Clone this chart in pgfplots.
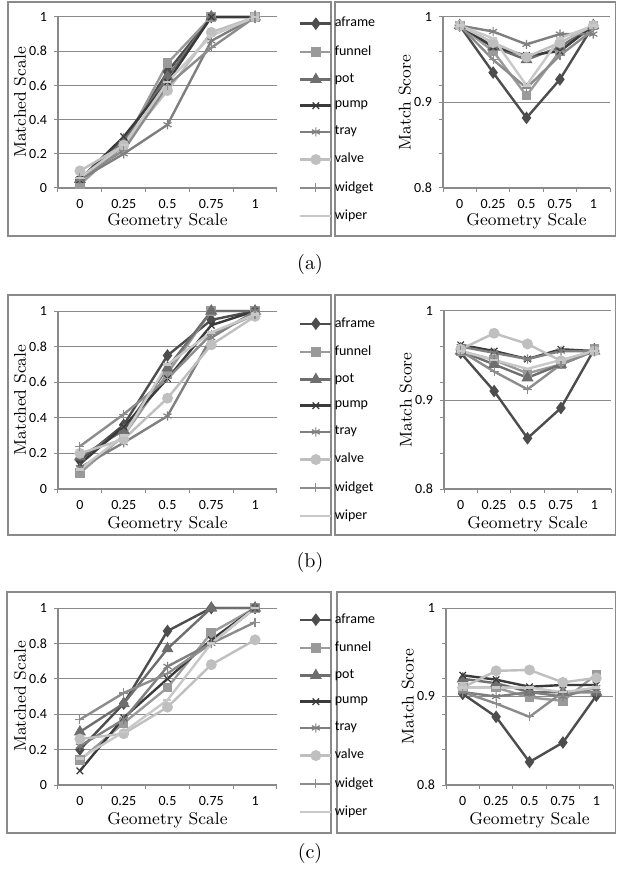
\documentclass[border=0pt]{standalone}
\usepackage{fontspec}
\usepackage{pgfplots}
\pgfplotsset{compat=1.18}
\usepackage{pgfplotstable}
\newfontfamily\carlito{Carlito}
\newcommand{\tickfont}{\carlito\fontsize{7}{8}\selectfont}
\newcommand{\labfont}{\fontsize{8.5}{10}\selectfont}

\definecolor{cAframe}{HTML}{4D4D4D}
\definecolor{cFunnel}{HTML}{9A9A9A}
\definecolor{cPot}{HTML}{6E6E6E}
\definecolor{cPump}{HTML}{3A3A3A}
\definecolor{cTray}{HTML}{7F7F7F}
\definecolor{cValve}{HTML}{BFBFBF}
\definecolor{cWidget}{HTML}{8C8C8C}
\definecolor{cWiper}{HTML}{C8C8C8}
\definecolor{gridgray}{HTML}{8A8A8A}

% x = category index (0 -> 0, 1 -> 0.25, ..., 4 -> 1)
\pgfplotstableread{
x aframe funnel pot pump tray valve widget wiper
0 0.05 0.02 0.05 0.05 0.05 0.10 0.06 0.06
1 0.27 0.25 0.28 0.30 0.20 0.25 0.22 0.25
2 0.68 0.73 0.65 0.62 0.37 0.57 0.60 0.62
3 1.00 1.00 1.00 1.00 0.86 0.91 0.82 0.89
4 1.00 1.00 1.00 1.00 1.00 1.00 1.00 1.00
}\tLA
\pgfplotstableread{
x aframe funnel pot pump tray valve widget wiper
0 0.990 0.990 0.990 0.990 0.990 0.990 0.990 0.990
1 0.935 0.960 0.965 0.965 0.983 0.970 0.950 0.975
2 0.882 0.908 0.950 0.955 0.968 0.953 0.917 0.920
3 0.927 0.960 0.965 0.960 0.980 0.970 0.955 0.975
4 0.990 0.990 0.990 0.990 0.980 0.990 0.985 0.990
}\tRA
\pgfplotstableread{
x aframe funnel pot pump tray valve widget wiper
0 0.16 0.09 0.18 0.14 0.12 0.20 0.24 0.11
1 0.36 0.30 0.33 0.35 0.26 0.28 0.42 0.30
2 0.75 0.65 0.68 0.62 0.41 0.51 0.62 0.70
3 0.95 1.00 1.00 0.92 0.85 0.81 0.87 0.88
4 1.00 1.00 1.00 1.00 1.00 0.97 0.98 0.98
}\tLB
\pgfplotstableread{
x aframe funnel pot pump tray valve widget wiper
0 0.953 0.955 0.955 0.962 0.960 0.957 0.955 0.955
1 0.910 0.945 0.940 0.955 0.953 0.975 0.932 0.945
2 0.857 0.930 0.925 0.946 0.946 0.963 0.912 0.935
3 0.891 0.940 0.940 0.957 0.955 0.944 0.940 0.945
4 0.957 0.958 0.955 0.955 0.955 0.955 0.955 0.955
}\tRB
\pgfplotstableread{
x aframe funnel pot pump tray valve widget wiper
0 0.20 0.14 0.30 0.08 0.22 0.26 0.37 0.15
1 0.46 0.35 0.46 0.38 0.37 0.29 0.52 0.30
2 0.87 0.55 0.77 0.60 0.67 0.44 0.63 0.48
3 1.00 0.86 1.00 0.82 0.80 0.68 0.80 0.80
4 1.00 1.00 1.00 1.00 1.00 0.82 0.92 1.00
}\tLC
\pgfplotstableread{
x aframe funnel pot pump tray valve widget wiper
0 0.903 0.910 0.920 0.924 0.905 0.910 0.905 0.910
1 0.877 0.910 0.915 0.919 0.900 0.929 0.892 0.910
2 0.826 0.899 0.905 0.911 0.905 0.930 0.877 0.910
3 0.848 0.895 0.905 0.913 0.900 0.916 0.905 0.905
4 0.901 0.925 0.905 0.913 0.910 0.921 0.905 0.910
}\tRC

\pgfplotsset{
  excel/.style={
    anchor=south west, scale only axis, clip=false,
    xmin=-0.5, xmax=4.5,
    xtick={0,...,4}, xticklabels={0,0.25,0.5,0.75,1},
    minor xtick={-0.5,0.5,1.5,2.5,3.5,4.5},
    major x tick style={draw=none},
    tick align=outside, major tick length=2pt, minor tick length=2pt,
    tick style={draw=gridgray, line width=0.5pt},
    axis x line*=bottom, axis y line*=left,
    axis line style={draw=gridgray, line width=0.6pt, -},
    ymajorgrids, major grid style={draw=gridgray, line width=0.5pt},
    ticklabel style={font=\tickfont},
    /pgf/number format/assume math mode=true,
    xlabel={Geometry Scale},
    xlabel style={font=\labfont, at={(axis description cs:0.5,-0.197)}, anchor=center},
    ylabel style={font=\labfont, anchor=center},
    every axis plot/.append style={line width=1.2pt, mark options={solid}},
    legend image code/.code={\draw[mark repeat=2,mark phase=2,##1]
      plot coordinates {(0cm,0cm) (0.27cm,0cm) (0.54cm,0cm)};},
  },
  leftax/.style={excel, width=109.5pt,
    ymin=0, ymax=1, ytick={0,0.2,...,1},
    ylabel={Matched Scale},
    ylabel style={at={(axis description cs:-0.173,0.5)}},
    legend cell align=left,
    legend style={at={(axis description cs:1.1,1)}, anchor=north west,
      draw=none, fill=none, font=\tickfont, inner sep=0pt, row sep=3.7pt,
      nodes={inner xsep=1.2pt}},
  },
  rightax/.style={excel, width=83.5pt,
    ymin=0.8, ymax=1, ytick={0.8,0.9,1},
    minor ytick={0.84,0.88,0.92,0.96},
    ylabel={Match Score},
    ylabel style={at={(axis description cs:-0.228,0.5)}},
  },
  sAframe/.style={cAframe, mark=diamond*, mark size=2.2pt},
  sFunnel/.style={cFunnel, mark=square*, mark size=1.8pt},
  sPot/.style={cPot, mark=triangle*, mark size=2.3pt},
  sPump/.style={cPump, mark=x, mark size=2.3pt, mark options={line width=0.6pt}},
  sTray/.style={cTray, mark=asterisk, mark size=2.3pt, mark options={line width=0.6pt}},
  sValve/.style={cValve, mark=*, mark size=2.1pt},
  sWidget/.style={cWidget, mark=+, mark size=2.3pt, mark options={line width=0.6pt}},
  sWiper/.style={cWiper, mark=-, mark size=2pt},
}

\newcommand{\allseries}[1]{%
  \addplot[sAframe] table[x=x,y=aframe] {#1};
  \addplot[sFunnel] table[x=x,y=funnel] {#1};
  \addplot[sPot]    table[x=x,y=pot]    {#1};
  \addplot[sPump]   table[x=x,y=pump]   {#1};
  \addplot[sTray]   table[x=x,y=tray]   {#1};
  \addplot[sValve]  table[x=x,y=valve]  {#1};
  \addplot[sWidget] table[x=x,y=widget] {#1};
  \addplot[sWiper]  table[x=x,y=wiper]  {#1};
}
\newcommand{\names}{\legend{aframe,funnel,pot,pump,tray,valve,widget,wiper}}

\begin{document}
\begin{tikzpicture}
\useasboundingbox (0pt,0pt) rectangle (308.5pt,-438.5pt);
\begin{scope}[draw=gridgray, line width=0.6pt]
  % chart frames
  \draw (4pt,-1pt) rectangle (165.5pt,-118pt);
  \draw (167.5pt,-1pt) rectangle (307.8pt,-118pt);
  \draw (4pt,-147.5pt) rectangle (165.5pt,-267.5pt);
  \draw (167.5pt,-147.5pt) rectangle (307.8pt,-267.5pt);
  \draw (3.5pt,-296pt) rectangle (165.5pt,-416.5pt);
  \draw (168.5pt,-296pt) rectangle (307.8pt,-416.5pt);
\end{scope}

% ---- (a)
\begin{axis}[leftax, at={(29pt,-94pt)}, height=85.5pt,
  legend style={yshift=2pt}]
  \allseries{\tLA}
  \names
\end{axis}
\begin{axis}[rightax, at={(221.5pt,-94pt)}, height=85.5pt]
  \allseries{\tRA}
\end{axis}
\node[font=\fontsize{10}{12}\selectfont] at (155pt,-132.5pt) {(a)};

% ---- (b)
\begin{axis}[leftax, at={(29pt,-244.5pt)}, height=89pt,
  legend style={yshift=-1pt}]
  \allseries{\tLB}
  \names
\end{axis}
\begin{axis}[rightax, at={(222pt,-244.5pt)}, height=89pt]
  \allseries{\tRB}
\end{axis}
\node[font=\fontsize{10}{12}\selectfont] at (155pt,-281pt) {(b)};

% ---- (c)
\begin{axis}[leftax, at={(29pt,-392.5pt)}, height=88.5pt,
  legend style={yshift=-0.5pt}]
  \allseries{\tLC}
  \names
\end{axis}
\begin{axis}[rightax, at={(223pt,-392.5pt)}, height=88.5pt]
  \allseries{\tRC}
\end{axis}
\node[font=\fontsize{10}{12}\selectfont] at (155pt,-426.5pt) {(c)};
\end{tikzpicture}
\end{document}
